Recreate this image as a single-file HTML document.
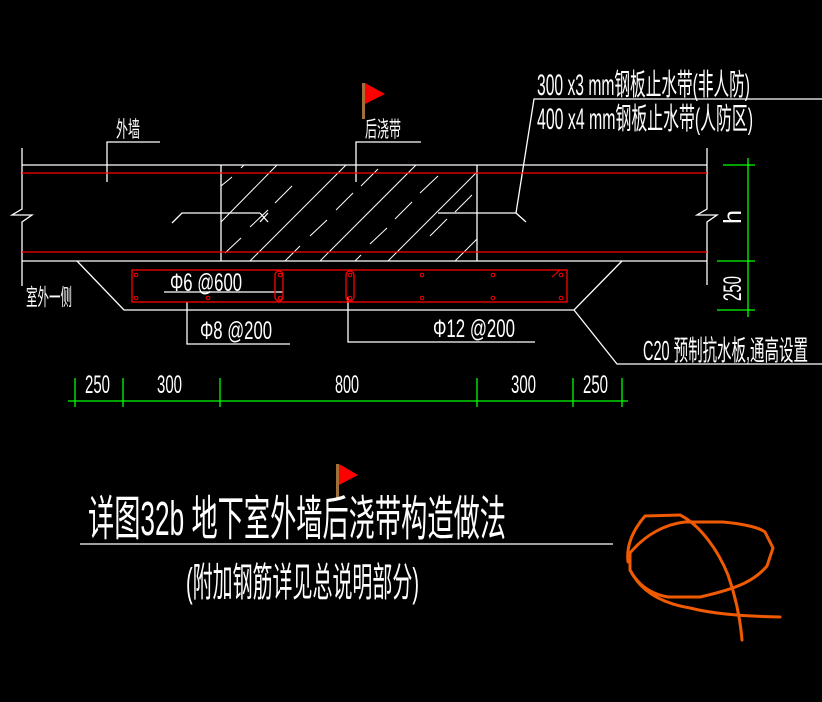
<!DOCTYPE html>
<html><head><meta charset="utf-8"><style>
html,body{margin:0;padding:0;background:#000;}
svg{display:block;}
text{font-family:"Liberation Sans","Noto Sans CJK SC",sans-serif;fill:#fff;}
</style></head><body>
<svg width="822" height="702" viewBox="0 0 822 702" xmlns="http://www.w3.org/2000/svg">
<rect width="822" height="702" fill="#000"/>
<g stroke="#fff" stroke-width="1.3" fill="none">
<line x1="22" y1="165" x2="707" y2="165"/>
<line x1="22" y1="261" x2="707" y2="261"/>
<polyline points="22,148 22,209 12,215 32,215 22,222 22,286"/>
<polyline points="707,148 707,209 697,215 717,215 707,222 707,285"/>
<line x1="221" y1="165" x2="221" y2="261"/>
<line x1="477" y1="165" x2="477" y2="261"/>
<g stroke-width="1">
<line x1="221" y1="186" x2="232" y2="177"/>
<line x1="241" y1="168" x2="244" y2="165"/>
<line x1="221" y1="222" x2="277" y2="165"/>
<line x1="250" y1="261" x2="346" y2="165"/>
<line x1="320" y1="261" x2="416" y2="165"/>
<line x1="388" y1="261" x2="477" y2="172"/>
<line x1="455" y1="261" x2="477" y2="239"/>
<line x1="275" y1="203" x2="292" y2="186"/>
<line x1="250" y1="227" x2="268" y2="210"/>
<line x1="225" y1="253" x2="241" y2="238"/>
<line x1="285" y1="261" x2="300" y2="246"/>
<line x1="310" y1="236" x2="327" y2="220"/>
<line x1="336" y1="210" x2="353" y2="193"/>
<line x1="361" y1="186" x2="378" y2="169"/>
<line x1="355" y1="261" x2="361" y2="255"/>
<line x1="370" y1="244" x2="387" y2="228"/>
<line x1="395" y1="219" x2="412" y2="202"/>
<line x1="420" y1="193" x2="438" y2="176"/>
<line x1="430" y1="236" x2="447" y2="219"/>
<line x1="455" y1="212" x2="472" y2="195"/>
</g>
<polyline points="107,182 107,142 160,142"/>
<polyline points="356,182 356,142 421,142"/>
<polyline points="172,223 182,213 260,213"/>
<line x1="260" y1="213" x2="268" y2="222"/><line x1="260" y1="222" x2="268" y2="213"/>
<polyline points="438,213 516,213 534,99 822,99"/>
<line x1="516" y1="213" x2="526" y2="222"/>
<polyline points="77,261 124,310 574,310 622,261"/>
<polyline points="574,310 617,364 822,364"/>
<polyline points="187,302 187,344 290,344"/>
<polyline points="348,297 348,342 535,342"/>
<line x1="164" y1="292" x2="283" y2="292"/>
<line x1="80" y1="544" x2="613" y2="544"/>
</g>
<g stroke="#f00" stroke-width="1.3" fill="none">
<line x1="22" y1="173" x2="707" y2="173"/>
<line x1="22" y1="252" x2="707" y2="252"/>
<rect x="132" y="270" width="435" height="32"/>
<rect x="275" y="271" width="8" height="30" rx="4"/>
<rect x="346" y="271" width="8" height="30" rx="4"/>
<g stroke-width="1">
<circle cx="136" cy="275" r="1.8"/><circle cx="136" cy="298" r="1.8"/>
<circle cx="208" cy="298" r="1.8"/>
<circle cx="280" cy="275" r="1.8"/><circle cx="280" cy="298" r="1.8"/>
<circle cx="350" cy="275" r="1.8"/><circle cx="350" cy="298" r="1.8"/>
<circle cx="422" cy="275" r="1.8"/><circle cx="422" cy="298" r="1.8"/>
<circle cx="493" cy="275" r="1.8"/><circle cx="493" cy="298" r="1.8"/>
<circle cx="561" cy="275" r="1.8"/><circle cx="561" cy="298" r="1.8"/>
<line x1="552" y1="277" x2="560" y2="270"/>
</g>
</g>
<g stroke="#0f0" stroke-width="1.3" fill="none">
<line x1="68" y1="401" x2="628" y2="401"/>
<line x1="75" y1="378" x2="75" y2="407"/>
<line x1="123" y1="378" x2="123" y2="407"/>
<line x1="220" y1="378" x2="220" y2="407"/>
<line x1="477" y1="378" x2="477" y2="407"/>
<line x1="573" y1="378" x2="573" y2="407"/>
<line x1="622" y1="378" x2="622" y2="407"/>
<line x1="748" y1="158" x2="748" y2="317"/>
<line x1="723" y1="165" x2="755" y2="165"/>
<line x1="717" y1="261" x2="755" y2="261"/>
<line x1="717" y1="310" x2="755" y2="310"/>
</g>
<rect x="362" y="83" width="3" height="36" fill="#a0703a"/>
<polygon points="365,83 385,94 365,104" fill="#f00"/>
<rect x="336" y="464" width="3" height="35" fill="#a0703a"/>
<polygon points="339,464 358,475 339,485" fill="#f00"/>
<g>
<text x="116" y="137" font-size="22" textLength="24" lengthAdjust="spacingAndGlyphs">外墙</text>
<text x="365" y="137" font-size="22" textLength="36" lengthAdjust="spacingAndGlyphs">后浇带</text>
<text x="26" y="305" font-size="23" textLength="46" lengthAdjust="spacingAndGlyphs">室外一侧</text>
<text x="537" y="95" font-size="30" textLength="213" lengthAdjust="spacingAndGlyphs">300 x3 mm钢板止水带(非人防)</text>
<text x="537" y="129" font-size="30" textLength="216" lengthAdjust="spacingAndGlyphs">400 x4 mm钢板止水带(人防区)</text>
<text x="170" y="291" font-size="25" textLength="72" lengthAdjust="spacingAndGlyphs">Φ6 @600</text>
<text x="200" y="339" font-size="25" textLength="72" lengthAdjust="spacingAndGlyphs">Φ8 @200</text>
<text x="433" y="337" font-size="25" textLength="82" lengthAdjust="spacingAndGlyphs">Φ12 @200</text>
<text x="643" y="360" font-size="28" textLength="165" lengthAdjust="spacingAndGlyphs">C20 预制抗水板,通高设置</text>
<g font-size="25">
<text x="85" y="393" textLength="25" lengthAdjust="spacingAndGlyphs">250</text>
<text x="157" y="393" textLength="25" lengthAdjust="spacingAndGlyphs">300</text>
<text x="335" y="393" textLength="24" lengthAdjust="spacingAndGlyphs">800</text>
<text x="511" y="393" textLength="25" lengthAdjust="spacingAndGlyphs">300</text>
<text x="583" y="393" textLength="25" lengthAdjust="spacingAndGlyphs">250</text>
<text transform="translate(741,224) rotate(-90)" textLength="14" lengthAdjust="spacingAndGlyphs">h</text>
<text transform="translate(741,301) rotate(-90)" textLength="25" lengthAdjust="spacingAndGlyphs">250</text>
</g>
<text x="88" y="535" font-size="48" textLength="418" lengthAdjust="spacingAndGlyphs">详图32b 地下室外墙后浇带构造做法</text>
<text x="186" y="596" font-size="40" textLength="233" lengthAdjust="spacingAndGlyphs">(附加钢筋详见总说明部分)</text>
</g>
<g stroke="#f05a00" stroke-width="3" fill="none" stroke-linecap="round" stroke-linejoin="round">
<path d="M628,562 C626,545 633,530 645,516 L680,515 C700,525 718,550 728,575 C735,595 740,615 742,640"/>
<path d="M630,553 C645,535 665,524 685,522 L723,522 C745,524 760,528 765,532 L773,548 L767,566 C755,580 740,588 700,597 L668,597 C650,594 638,585 630,570 Z"/>
<path d="M630,570 C640,590 660,603 690,608 C710,613 735,616 780,617"/>
</g>
</svg>
</body></html>
